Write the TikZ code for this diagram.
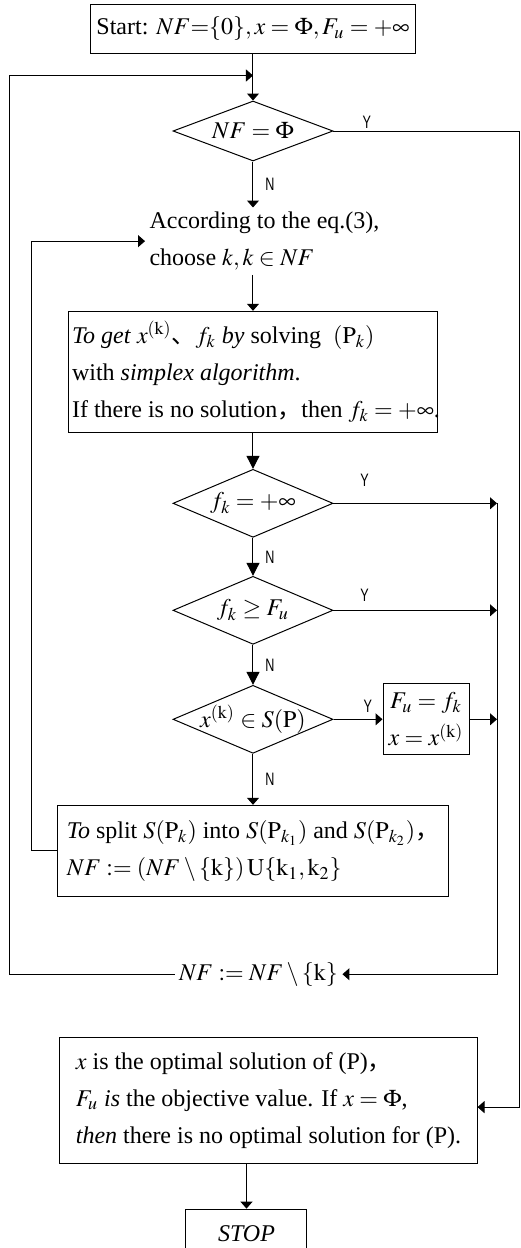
\documentclass[tikz,border=0pt]{standalone}
\usepackage{mathptmx}
\usepackage[no-math]{fontspec}
\setmainfont{Liberation Serif}
\newfontfamily\cjk{Noto Sans CJK SC}
\newfontfamily\ynfont[FakeStretch=0.7]{Liberation Sans}
\usetikzlibrary{arrows.meta,positioning,calc,shapes.geometric}

\begin{document}
\begin{tikzpicture}[
  line width=0.5pt,
  every node/.style={font=\fontsize{12}{18.5}\selectfont},
  box/.style={draw, inner sep=3pt, align=left},
  test/.style={draw, diamond, aspect=2.4, inner sep=-2pt, minimum width=80pt, minimum height=34pt},
  yn/.style={font=\ynfont\fontsize{9}{9}\selectfont, inner sep=1pt},
  arr/.style={-{Triangle[length=3.5pt,width=6pt]}},
  bigarr/.style={-{Triangle[length=6.5pt,width=6.5pt]}}
]
\useasboundingbox (-126.5pt,14.25pt) rectangle (133.5pt,-609.75pt);

\node[box, align=center, minimum width=159pt, minimum height=24.5pt] (start) at (0,0) {Start: $NF{=}\{0\}, x=\Phi, F_u=+\infty$};
\node[test, minimum height=30pt, below=23.5pt of start] (d1) {$NF=\Phi$};
\node[align=left, inner sep=2pt, below=23pt of d1, xshift=5.75pt] (choose) {According to the eq.(3),\\choose $k, k\in NF$};
\node[box, inner xsep=2pt, minimum width=184.5pt, minimum height=60.5pt, below=18pt of choose, xshift=-5.75pt] (solve) {\textit{To get} $x^{(\mathrm{k})}${\cjk 、}$f_k$ \textit{by} solving\ \ $(\mathrm{P}_k)$\\with \textit{simplex algorithm}.\\If there is no solution{\cjk ，}then $f_k=+\infty$\rlap{.}};
\node[test, below=18pt of solve] (d2) {$f_k=+\infty$};
\node[test, below=19pt of d2] (d3) {$f_k\geq F_u$};
\node[test, below=20pt of d3] (d4) {$x^{(\mathrm{k})}\in S(\mathrm{P})$};
\node[box, align=center, inner sep=2pt, minimum width=43pt, minimum height=35.5pt, right=24.5pt of d4] (upd) {$F_u=f_k$\\$x=x^{(\mathrm{k})}$};
\node[box, inner xsep=4.5pt, minimum width=189.5pt, minimum height=45.5pt, below=25.5pt of d4] (split) {\textit{To} split $S(\mathrm{P}_k)$ into $S(\mathrm{P}_{k_1})$ and $S(\mathrm{P}_{k_2})${\cjk ，}\\$NF := (NF\setminus\{\mathrm{k}\})\,\mathrm{U}\{\mathrm{k}_1,\mathrm{k}_2\}$};
\node[inner sep=2pt, below=30.5pt of split, xshift=2.75pt] (nfk) {$NF := NF\setminus\{\mathrm{k}\}$};
\node[box, minimum width=208.5pt, minimum height=63pt, below=23pt of nfk, xshift=5pt] (result) {$x$ is the optimal solution of (P){\cjk ，}\\$F_u$ \textit{is} the objective value. If $x=\Phi$,\\\textit{then} there is no optimal solution for (P).};
\node[box, align=center, minimum width=60.5pt, minimum height=24.5pt, below=22.5pt of result, xshift=-11pt] (stop) {\textit{STOP}};

\coordinate (rail) at (122pt,0);
\coordinate (farR) at (133pt,0);
\coordinate (loopin) at (-110.5pt,0);
\coordinate (loopout) at (-121.5pt,0);
\coordinate (join) at ($(start.south)+(0,-11pt)$);

\draw[arr] (start) -- (d1);
\draw[arr] (nfk.west) -| (loopout |- join) -- (join);
\draw[arr] (d1) -- node[yn, right=5pt]{N} (d1.south |- choose.north);
\draw[arr] (d1.east) -- node[yn, above=0pt, pos=0.18]{Y} (d1.east -| farR) |- ([yshift=-3.5pt]result.east);
\draw[arr] (choose.south -| d1) -- (solve.north -| d1);
\draw[bigarr] (solve.south -| d2) -- (d2);
\draw[bigarr] (d2) -- node[yn, right=5pt]{N} (d3);
\draw[bigarr] (d3) -- node[yn, right=5pt]{N} (d4);
\draw[arr] (d4) -- node[yn, right=5pt]{N} (split);
\draw[arr] (d2.east) -- node[yn, above=7pt, pos=0.19]{Y} (d2.east -| rail);
\draw[arr] (d3.east) -- node[yn, above=3pt, pos=0.19]{Y} (d3.east -| rail);
\draw[arr] (d4) -- node[yn, above=2pt, pos=0.7]{Y} (upd);
\draw[arr] (upd) -- (upd -| rail);
\draw[arr] (d2.east -| rail) |- (nfk.east);
\draw[arr] (split.west) -| (loopin |- choose.west) -- (choose.west);
\draw[arr] (result.south -| stop.north) -- (stop.north);

\end{tikzpicture}
\end{document}
